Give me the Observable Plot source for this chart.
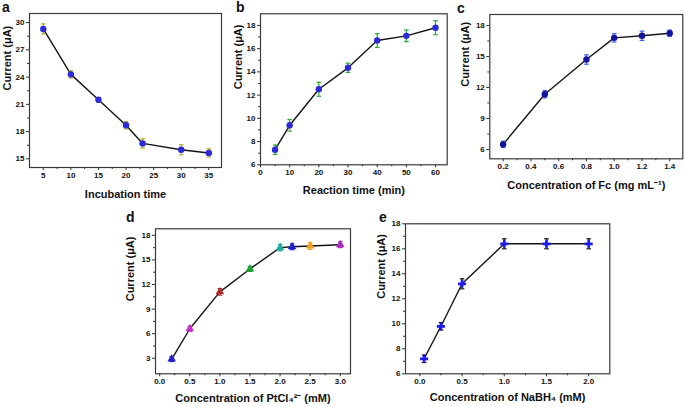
<!DOCTYPE html>
<html>
<head>
<meta charset="utf-8">
<script src="https://cdn.jsdelivr.net/npm/d3@7"></script>
<script src="https://cdn.jsdelivr.net/npm/@observablehq/plot@0.6"></script>
<style>
  html, body { margin: 0; padding: 0; background: #fff; }
  #root { position: relative; width: 685px; height: 407px; overflow: hidden; background: #fff; }
  .panel { position: absolute; }
  .tag { position: absolute; font: bold 14px "Liberation Sans", Arial, sans-serif; color: #111; line-height: 1; }
</style>
</head>
<body>
<div id="root"></div>
<script>
// ---- Panel a: Incubation time ----
const aX = [5, 10, 15, 20, 23, 30, 35];
const aY = [29.3, 24.3, 21.5, 18.7, 16.7, 16.0, 15.65];
const aErr = [0.55, 0.4, 0.25, 0.4, 0.5, 0.55, 0.45];
const aXTicks = [5, 10, 15, 20, 25, 30, 35];
const aYTicks = [15, 18, 21, 24, 27, 30];

// ---- Panel b: Reaction time ----
const bX = [5, 10, 20, 30, 40, 50, 60];
const bY = [7.3, 9.4, 12.5, 14.35, 16.7, 17.1, 17.8];
const bErr = [0.4, 0.5, 0.6, 0.4, 0.6, 0.5, 0.6];
const bXTicks = [0, 10, 20, 30, 40, 50, 60];
const bYTicks = [6, 8, 10, 12, 14, 16, 18];

// ---- Panel c: Concentration of Fc ----
const cX = [0.2, 0.5, 0.8, 1.0, 1.2, 1.4];
const cY = [6.5, 11.35, 14.7, 16.8, 17.0, 17.25];
const cErr = [0.3, 0.35, 0.45, 0.4, 0.45, 0.3];
const cXTicks = [0.2, 0.4, 0.6, 0.8, 1.0, 1.2, 1.4];
const cYTicks = [6, 9, 12, 15, 18];

// ---- Panel d: Concentration of PtCl4 2- ----
const dX = [0.2, 0.5, 1.0, 1.5, 2.0, 2.2, 2.5, 3.0];
const dY = [2.9, 6.6, 11.1, 13.9, 16.5, 16.6, 16.7, 16.85];
const dErr = [0.3, 0.3, 0.4, 0.3, 0.4, 0.35, 0.4, 0.35];
const dColors = ["#2222c8", "#c030c8", "#b02828", "#22a030", "#20a8a0", "#2222c8", "#f0a020", "#a828c0"];
const dXTicks = [0.0, 0.5, 1.0, 1.5, 2.0, 2.5, 3.0];
const dYTicks = [3, 6, 9, 12, 15, 18];

// ---- Panel e: Concentration of NaBH4 ----
const eX = [0.05, 0.25, 0.5, 1.0, 1.5, 2.0];
const eY = [7.2, 9.8, 13.2, 16.4, 16.4, 16.4];
const eErr = [0.3, 0.3, 0.4, 0.4, 0.4, 0.4];
const eXTicks = [0.0, 0.5, 1.0, 1.5, 2.0];
const eYTicks = [6, 8, 10, 12, 14, 16, 18];

const FONT = '"Liberation Sans", Arial, Helvetica, sans-serif';
const mid = t => t.slice(1).map((v, i) => (v + t[i]) / 2);
const noLabel = () => "";
const capSymbol = {
  draw(ctx, size) {
    const r = Math.sqrt(size / Math.PI);
    ctx.moveTo(-r, 0);
    ctx.lineTo(r, 0);
  }
};

function panel(cfg) {
  const data = cfg.x.map((x, i) => ({
    x, y: cfg.y[i], e: cfg.err[i],
    pc: cfg.colors ? cfg.colors[i] : cfg.pointColor,
    ec: cfg.colors ? cfg.colors[i] : cfg.errColor
  }));
  const chart = Plot.plot({
    width: cfg.w, height: cfg.h,
    marginLeft: cfg.ml, marginRight: cfg.mr, marginTop: cfg.mt, marginBottom: cfg.mb,
    style: { fontFamily: FONT, fontWeight: "bold", fontSize: "8px", color: "#222", background: "transparent", overflow: "visible" },
    x: { domain: cfg.xDomain },
    y: { domain: cfg.yDomain },
    color: { type: "identity" },
    marks: [
      Plot.axisX({ ticks: mid(cfg.xTicks), tickSize: 2, tickFormat: noLabel, label: null, stroke: "#333" }),
      Plot.axisY({ ticks: mid(cfg.yTicks), tickSize: 2, tickFormat: noLabel, label: null, stroke: "#333" }),
      Plot.axisX({ ticks: cfg.xTicks, tickSize: 3, tickPadding: 2, tickFormat: cfg.xFmt, label: null, stroke: "#333", fill: "#111" }),
      Plot.axisY({ ticks: cfg.yTicks, tickSize: 3, tickPadding: 2, tickFormat: cfg.yFmt, label: null, stroke: "#333", fill: "#111" }),
      Plot.frame({ stroke: "#3a3a3a", strokeWidth: 1.2 }),
      Plot.line(data, { x: "x", y: "y", stroke: "#151515", strokeWidth: 1.4 }),
      Plot.ruleX(data, { x: "x", y1: d => d.y - d.e, y2: d => d.y + d.e, stroke: "ec", strokeWidth: 1.2 }),
      Plot.dot(data, { x: "x", y: d => d.y + d.e, symbol: capSymbol, r: 2.3, stroke: "ec", fill: "none", strokeWidth: 1.2 }),
      Plot.dot(data, { x: "x", y: d => d.y - d.e, symbol: capSymbol, r: 2.3, stroke: "ec", fill: "none", strokeWidth: 1.2 }),
      Plot.dot(data, { x: "x", y: "y", symbol: cfg.symbol || "circle", r: cfg.r || 3.2, fill: "pc", stroke: "none" }),
      Plot.text([cfg.xLabel], { frameAnchor: "bottom", dy: cfg.xlo, fontSize: 11, fontWeight: "bold", fill: "#111", lineAnchor: "middle" }),
      Plot.text([cfg.yLabel], { frameAnchor: "left", dx: -cfg.ylo, rotate: -90, fontSize: 11, fontWeight: "bold", fill: "#111", lineAnchor: "middle" })
    ]
  });
  const wrap = document.createElement("div");
  wrap.className = "panel";
  wrap.style.left = cfg.left + "px";
  wrap.style.top = cfg.top + "px";
  wrap.appendChild(chart);
  document.getElementById("root").appendChild(wrap);
  const tag = document.createElement("div");
  tag.className = "tag";
  tag.textContent = cfg.tag;
  tag.style.left = cfg.tagX + "px";
  tag.style.top = cfg.tagY + "px";
  document.getElementById("root").appendChild(tag);
}

const fmtInt = d3.format("d");
const fmt1 = d3.format(".1f");

panel({
  tag: "a", tagX: 2, tagY: 0,
  left: 0, top: 0, w: 230, h: 200, ml: 29, mr: 9, mt: 13, mb: 33,
  x: aX, y: aY, err: aErr, xTicks: aXTicks, yTicks: aYTicks, xFmt: fmtInt, yFmt: fmtInt,
  xDomain: [2.5, 37.3], yDomain: [14.05, 31.0],
  pointColor: "#2a2ad8", errColor: "#b0a830",
  xLabel: "Incubation time", yLabel: "Current (μA)", xlo: 27, ylo: 22
});

panel({
  tag: "b", tagX: 236, tagY: 0,
  left: 230, top: 0, w: 225, h: 200, ml: 30, mr: 8.3, mt: 13.3, mb: 35.7,
  x: bX, y: bY, err: bErr, xTicks: bXTicks, yTicks: bYTicks, xFmt: fmtInt, yFmt: fmtInt,
  xDomain: [0, 64], yDomain: [6, 19],
  pointColor: "#2a2ad8", errColor: "#30a838",
  xLabel: "Reaction time (min)", yLabel: "Current (μA)", xlo: 26, ylo: 22
});

panel({
  tag: "c", tagX: 457, tagY: 1,
  left: 455, top: 0, w: 230, h: 200, ml: 34.3, mr: 2.7, mt: 14, mb: 41.7,
  x: cX, y: cY, err: cErr, xTicks: cXTicks, yTicks: cYTicks, xFmt: fmt1, yFmt: fmtInt,
  xDomain: [0.104, 1.494], yDomain: [5.1, 19.06],
  pointColor: "#12129a", errColor: "#3a5cf0",
  xLabel: "Concentration of Fc (mg mL⁻¹)", yLabel: "Current (μA)", xlo: 27, ylo: 24
});

panel({
  tag: "d", tagX: 126, tagY: 210,
  left: 110, top: 200, w: 260, h: 207, ml: 45, mr: 20, mt: 28.3, mb: 33.7,
  x: dX, y: dY, err: dErr, colors: dColors, xTicks: dXTicks, yTicks: dYTicks, xFmt: fmt1, yFmt: fmtInt,
  xDomain: [-0.07, 3.17], yDomain: [1.1, 18.8], symbol: "triangle", r: 3.2,
  xLabel: "Concentration of PtCl₄²⁻ (mM)", yLabel: "Current (μA)", xlo: 25, ylo: 25
});

panel({
  tag: "e", tagX: 379, tagY: 210,
  left: 370, top: 200, w: 315, h: 207, ml: 35, mr: 75.7, mt: 23.3, mb: 33.7,
  x: eX, y: eY, err: eErr, xTicks: eXTicks, yTicks: eYTicks, xFmt: fmt1, yFmt: fmtInt,
  xDomain: [-0.17, 2.25], yDomain: [6, 18], symbol: "cross", r: 3.4,
  pointColor: "#1c1cf0", errColor: "#151515",
  xLabel: "Concentration of NaBH₄ (mM)", yLabel: "Current (μA)", xlo: 24, ylo: 24
});
</script>
</body>
</html>
